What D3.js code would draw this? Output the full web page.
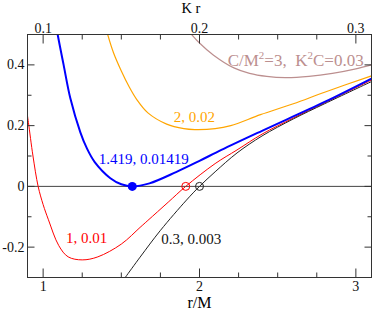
<!DOCTYPE html>
<html>
<head>
<meta charset="utf-8">
<style>
body { margin: 0; background: #fff; }
svg text { font-family: "Liberation Serif", "Times New Roman", "DejaVu Serif", serif !important; }
</style>
</head>
<body>
<div id="chart"></div>
<script src="https://d3js.org/d3.v7.min.js"></script>
<script>
// tick values
var rTicks = [1, 2, 3];
var rMinor = [1.25, 1.5, 1.75, 2.25, 2.5, 2.75];
var krTicks = [0.1, 0.2, 0.3];
var krMinor = [0.125, 0.15, 0.175, 0.225, 0.25, 0.275];
var vTicks = [-0.2, 0, 0.2, 0.4];
var vMinor = [-0.1, 0.1, 0.3];

// curves, [r/M, V]
var curveC3 = [[1.93,0.53],[1.944,0.505],[2.0,0.472],[2.09,0.432],[2.22,0.39],[2.32,0.372],[2.43,0.362],[2.55,0.358],[2.7,0.362],[2.85,0.372],[3.0,0.387],[3.1,0.4]];
var curveC2 = [[1.39,0.545],[1.41,0.505],[1.45,0.44],[1.5,0.38],[1.55,0.328],[1.6,0.285],[1.67,0.242],[1.79,0.205],[1.9,0.19],[1.97,0.187],[2.1,0.19],[2.2,0.2],[2.39,0.236],[2.6,0.272],[2.8,0.31],[3.1,0.364]];
var curveC1419 = [[1.08,0.54],[1.093,0.5],[1.131,0.4],[1.174,0.29],[1.238,0.178],[1.28,0.125],[1.33,0.08],[1.43,0.027],[1.5,0.007],[1.57,0],[1.68,0.01],[1.85,0.047],[2.0,0.084],[2.14,0.12],[2.4,0.183],[2.8,0.278],[3.1,0.355]];
var curveC1 = [[0.895,0.25],[0.906,0.21],[0.935,0.1],[0.968,0],[1.0,-0.06],[1.034,-0.11],[1.1,-0.195],[1.16,-0.232],[1.25,-0.242],[1.35,-0.232],[1.5,-0.19],[1.62,-0.135],[1.67,-0.112],[1.8,-0.052],[1.912,0],[2.1,0.075],[2.24,0.12],[2.4,0.172],[2.6,0.225],[2.8,0.275],[3.1,0.35]];
var curveC03 = [[1.50,-0.318],[1.525,-0.3],[1.62,-0.233],[1.75,-0.145],[1.917,-0.045],[2.0,0],[2.1,0.048],[2.24,0.11],[2.4,0.166],[2.6,0.222],[2.8,0.272],[3.1,0.345]];

// special points
var minPoint = [1.57, 0];
var zeroC1 = [1.912, 0];
var zeroC03 = [2.0, 0];

// labels and where they sit, [r/M, V]
var labelText = ["2, 0.02", "1.419, 0.01419", "1, 0.01", "0.3, 0.003"];
var labelAt = [[1.835, 0.213], [1.355, 0.074], [1.147, -0.187], [1.755, -0.19]];
var labelC3At = [2.18, 0.397];

var serif = "'Liberation Serif', 'Times New Roman', 'DejaVu Serif', serif";

margin = {top: 34.5, right: 2.5, bottom: 33.5, left: 27.5};
width = 374 - margin.left - margin.right;
height = 311 - margin.top - margin.bottom;

var svg = d3.select("#chart").append("svg")
    .attr("width", 374)
    .attr("height", 311)
    .style("font-family", serif);
g = svg.append("g").attr("transform", "translate(" + margin.left + "," + margin.top + ")");

var x = d3.scaleLinear().domain([0.9, 3.1]).range([0, width]);
var kr = d3.scaleLinear().domain([0.09, 0.31]).range([0, width]);
var y = d3.scaleLinear().domain([-0.3, 0.5]).range([height, 0]);

g.append("clipPath").attr("id", "plot")
  .append("rect").attr("width", width).attr("height", height);

// zero line
g.append("line")
    .attr("x1", 0).attr("x2", width)
    .attr("y1", y(0)).attr("y2", y(0))
    .attr("stroke", "#444")
    .attr("stroke-width", 1);

var line = d3.line()
    .x(function(d) { return x(d[0]); })
    .y(function(d) { return y(d[1]); })
    .curve(d3.curveCatmullRom.alpha(0.5));

var plot = g.append("g").attr("clip-path", "url(#plot)");

plot.append("path").datum(curveC3)
    .attr("fill", "none").attr("stroke", "#bc8f8f").attr("stroke-width", 1.2).attr("d", line);
plot.append("path").datum(curveC2)
    .attr("fill", "none").attr("stroke", "#ffa500").attr("stroke-width", 1.2).attr("d", line);
plot.append("path").datum(curveC1)
    .attr("fill", "none").attr("stroke", "#ff0000").attr("stroke-width", 1).attr("d", line);
plot.append("path").datum(curveC03)
    .attr("fill", "none").attr("stroke", "#222").attr("stroke-width", 1).attr("d", line);
plot.append("path").datum(curveC1419)
    .attr("fill", "none").attr("stroke", "#0000ff").attr("stroke-width", 2).attr("d", line);

// markers
g.append("circle")
    .attr("cx", x(minPoint[0])).attr("cy", y(minPoint[1])).attr("r", 4.5)
    .attr("fill", "#0000ff");
g.append("circle")
    .attr("cx", x(zeroC1[0])).attr("cy", y(zeroC1[1])).attr("r", 4)
    .attr("fill", "none").attr("stroke", "#ff0000").attr("stroke-width", 1);
g.append("circle")
    .attr("cx", x(zeroC03[0])).attr("cy", y(zeroC03[1])).attr("r", 4)
    .attr("fill", "none").attr("stroke", "#222").attr("stroke-width", 1);

// labels
var labelColor = ["#ffa500", "#0000ff", "#ff0000", "#111"];
g.selectAll(".lab")
  .data(labelText)
  .enter().append("text")
    .attr("class", "lab")
    .attr("x", function(d, i) { return x(labelAt[i][0]); })
    .attr("y", function(d, i) { return y(labelAt[i][1]); })
    .attr("fill", function(d, i) { return labelColor[i]; })
    .style("font-family", serif)
    .style("font-size", "15px")
    .style("white-space", "pre")
    .text(function(d) { return d; });

var c3 = g.append("text")
    .attr("x", x(labelC3At[0]))
    .attr("y", y(labelC3At[1]))
    .attr("fill", "#bc8f8f")
    .style("font-family", serif)
    .style("font-size", "17px")
    .style("white-space", "pre");
c3.append("tspan").text("C/M");
c3.append("tspan").attr("dy", -6.5).style("font-size", "11px").text("2");
c3.append("tspan").attr("dy", 6.5).text("=3,  K");
c3.append("tspan").attr("dy", -6.5).style("font-size", "11px").text("2");
c3.append("tspan").attr("dy", 6.5).text("C=0.03");

// axes
function styleAxis(a) {
  a.select(".domain").remove();
  a.attr("font-family", null)
   .attr("font-size", 14)
   .attr("color", "#333");
  a.selectAll("text")
   .attr("fill", "#111")
   .style("font-family", serif);
}

g.append("g")
    .attr("transform", "translate(0," + height + ")")
    .call(d3.axisBottom(x).tickValues(rTicks).tickSize(-9).tickPadding(4).offset(0).tickFormat(d3.format("d")))
    .call(styleAxis);
g.append("g")
    .attr("transform", "translate(0," + height + ")")
    .call(d3.axisBottom(x).tickValues(rMinor).tickSize(-5).offset(0).tickFormat(""))
    .call(styleAxis);

g.append("g")
    .call(d3.axisTop(kr).tickValues(krTicks).tickSize(-9).tickPadding(2).offset(0).tickFormat(function(d) { return String(d); }))
    .call(styleAxis);
g.append("g")
    .call(d3.axisTop(kr).tickValues(krMinor).tickSize(-5).offset(0).tickFormat(""))
    .call(styleAxis);

g.append("g")
    .call(d3.axisLeft(y).tickValues(vTicks).tickSize(-7).tickPadding(3).offset(0).tickFormat(function(d) { return String(d); }))
    .call(styleAxis);
g.append("g")
    .call(d3.axisLeft(y).tickValues(vMinor).tickSize(-4).offset(0).tickFormat(""))
    .call(styleAxis);

g.append("g")
    .attr("transform", "translate(" + width + ",0)")
    .call(d3.axisRight(y).tickValues(vTicks).tickSize(-7).offset(0).tickFormat(""))
    .call(styleAxis);
g.append("g")
    .attr("transform", "translate(" + width + ",0)")
    .call(d3.axisRight(y).tickValues(vMinor).tickSize(-4).offset(0).tickFormat(""))
    .call(styleAxis);

// frame
g.append("rect")
    .attr("width", width).attr("height", height)
    .attr("fill", "none").attr("stroke", "#333").attr("stroke-width", 1);

// axis titles
g.append("text")
    .attr("x", width * 0.475)
    .attr("y", -21.5)
    .attr("text-anchor", "middle")
    .style("font-family", serif)
    .style("font-size", "14.5px")
    .text("K r");
g.append("text")
    .attr("x", x(2))
    .attr("y", height + 30.5)
    .attr("text-anchor", "middle")
    .style("font-family", serif)
    .style("font-size", "16px")
    .text("r/M");
</script>
</body>
</html>
